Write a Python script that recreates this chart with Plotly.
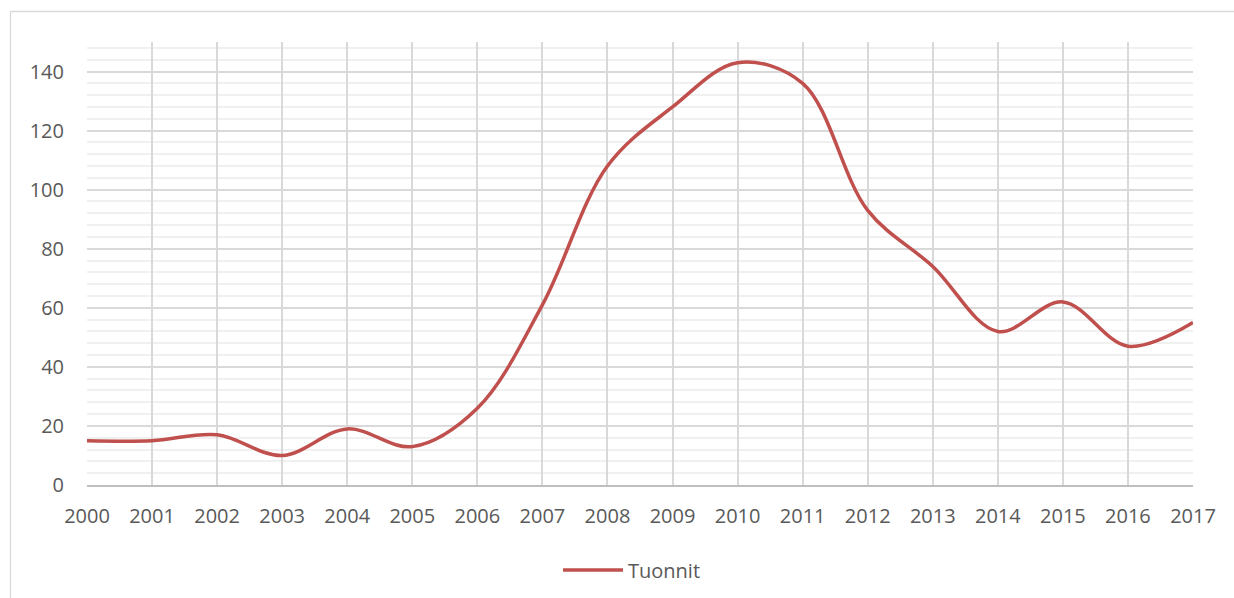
import plotly.graph_objects as go

years = list(range(2000, 2018))
tuonnit = [15, 15, 17, 10, 19, 13, 26, 61, 108, 128, 143, 136, 93, 74, 52, 62, 47, 55]
series_name = "Tuonnit"

W, H = 1234, 598
L, R, T, B = 87, 1193, 42, 485

def px_x(p):
    return (p - L) / (R - L)

def px_y(p):
    return (B - p) / (B - T)

fig = go.Figure()
fig.add_trace(go.Scatter(
    x=years, y=tuonnit, mode="lines", name=series_name,
    line=dict(color="#c0504d", width=3.5, shape="spline", smoothing=1),
))

fig.add_shape(type="rect", xref="paper", yref="paper",
              x0=px_x(10.5), x1=px_x(1240), y0=px_y(610), y1=px_y(11.5),
              line=dict(color="#d9d9d9", width=1.3), fillcolor="rgba(0,0,0,0)", layer="below")

font = dict(family="Open Sans, Liberation Sans, sans-serif", size=20, color="#595959")

fig.update_layout(
    width=W, height=H,
    margin=dict(l=L, r=W - R, t=T, b=H - B, autoexpand=False),
    paper_bgcolor="white", plot_bgcolor="white",
    font=font,
    showlegend=True,
    legend=dict(orientation="h", x=px_x(632), xanchor="center", y=px_y(570), yanchor="middle",
                itemwidth=60,
                font=dict(family=font["family"], size=20, color="#595959")),
    xaxis=dict(range=[2000, 2017], tickmode="array", tickvals=years, ticktext=[str(y) for y in years],
               showgrid=True, gridcolor="#d9d9d9", gridwidth=1.5, zeroline=False,
               showline=True, linecolor="#bfbfbf", linewidth=1.5, ticks="", ticklabelstandoff=12),
    yaxis=dict(range=[0, 150], tickmode="array", tickvals=[0, 20, 40, 60, 80, 100, 120, 140],
               showgrid=True, gridcolor="#d9d9d9", gridwidth=1.5, zeroline=False,
               showline=False, ticks="", ticklabelstandoff=22,
               minor=dict(dtick=4, tick0=0, showgrid=True, gridcolor="#f0f0f0", gridwidth=1.5)),
)

fig.write_html("out.html", config={"displayModeBar": False})
with open("out.html", "r", encoding="utf-8") as f:
    html = f.read()
html = html.replace("<body>", "<body style=\"margin:0;padding:0;\">", 1)
html = html.replace("<head>", "<head><style>html,body{margin:0;padding:0;overflow:hidden;}</style>", 1)
with open("out.html", "w", encoding="utf-8") as f:
    f.write(html)
